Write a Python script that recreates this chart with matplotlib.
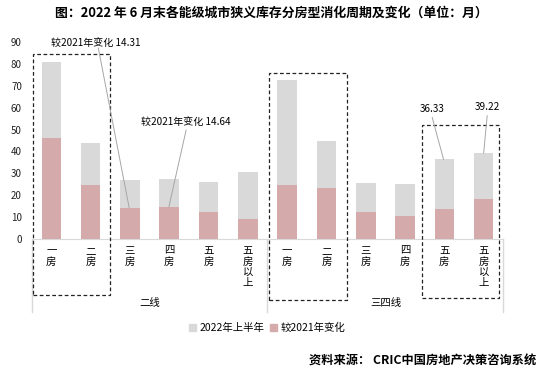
import matplotlib
matplotlib.use("Agg")
import matplotlib.pyplot as plt
from matplotlib.patches import Rectangle, Patch

plt.rcParams["font.family"] = ["Noto Sans CJK SC", "DejaVu Sans"]

# data (months)
room_types = ["一房", "二房", "三房", "四房", "五房", "五房以上"]
groups = ["二线", "三四线"]
h1_2022 = [81.0, 43.7, 26.9, 27.3, 26.1, 30.5,
           72.6, 44.9, 25.6, 24.9, 36.33, 39.22]
chg_vs_2021 = [46.2, 24.6, 14.31, 14.64, 12.4, 9.0,
               24.6, 23.2, 12.2, 10.3, 13.6, 18.3]
series_names = ["2022年上半年", "较2021年变化"]

GRAY = "#d9d9d9"
PINK = "#d5aaaa"
LINE = "#d9d9d9"

cats = room_types * len(groups)
x = list(range(len(cats)))

fig = plt.figure(figsize=(5.5, 3.75), dpi=100)
ax = fig.add_axes([0.0576, 0.3627, 0.8575, 0.5253])

ax.bar(x, h1_2022, width=0.5, color=GRAY, zorder=2)
ax.bar(x, chg_vs_2021, width=0.5, color=PINK, zorder=3)

ax.set_xlim(-0.5, len(cats) - 0.5)
ax.set_ylim(0, 90)
ax.set_yticks(range(0, 91, 10))
ax.tick_params(axis="y", length=0, pad=7, labelsize=7, colors="#222222")
ax.set_xticks(x)
ax.set_xticklabels(["\n".join(c) for c in cats], fontsize=7.5,
                   linespacing=1.08, va="top")
ax.tick_params(axis="x", length=0, pad=5)
for s in ("top", "right", "left"):
    ax.spines[s].set_visible(False)
ax.spines["bottom"].set_color(LINE)

# group separators + labels
xt = ax.get_xaxis_transform()
n = len(room_types)
for k in range(len(groups) + 1):
    ax.plot([k * n - 0.5] * 2, [0, -0.37], transform=xt, color=LINE,
            lw=1, clip_on=False)
for k, g in enumerate(groups):
    ax.text(k * n + (n - 1) / 2, -0.325, g, transform=xt, ha="center",
            va="center", fontsize=7.5)

# dashed highlight boxes
boxes = [(-0.46, 1.49, -25.6, 84.4), (5.55, 7.53, -27.9, 75.7),
         (9.44, 11.40, -27.1, 52.1)]
for x0, x1, y0, y1 in boxes:
    ax.add_patch(Rectangle((x0, y0), x1 - x0, y1 - y0, fill=False,
                           ls=(0, (3, 2)), lw=0.9, ec="#222222",
                           clip_on=False, zorder=4))

# callouts
callouts = [
    (2, chg_vs_2021[2], f"较2021年变化 {chg_vs_2021[2]:.2f}", (1.13, 89.5), (1.195, 87.3), -0.02),
    (3, chg_vs_2021[3], f"较2021年变化 {chg_vs_2021[3]:.2f}", (3.42, 53.6), (3.43, 49.8), -0.01),
    (10, h1_2022[10], f"{h1_2022[10]:.2f}", (9.69, 59.3), (9.69, 55.6), -0.02),
    (11, h1_2022[11], f"{h1_2022[11]:.2f}", (11.09, 60.2), (11.09, 56.4), 0.0),
]
for i, v, label, tpos, lstart, dx in callouts:
    ax.text(tpos[0], tpos[1], label, ha="center", va="center", fontsize=7.2,
            zorder=5)
    ax.annotate("", xy=(i + dx, v), xytext=lstart,
                arrowprops=dict(arrowstyle="-", color="#a6a6a6", lw=0.7,
                                shrinkA=0, shrinkB=0), zorder=5)

handles = [Patch(color=GRAY), Patch(color=PINK)]
fig.legend(handles, series_names, loc="center", ncol=2,
           bbox_to_anchor=(267 / 550, 1 - 328 / 375), frameon=False,
           fontsize=7.5, handlelength=0.7, handleheight=0.7,
           handletextpad=0.3, columnspacing=0.5)

fig.text(271 / 550, 1 - 13 / 375,
         "图：2022 年 6 月末各能级城市狭义库存分房型消化周期及变化（单位：月）",
         ha="center", va="center", fontsize=9.3, fontweight="bold")
fig.text(536 / 550, 1 - 361 / 375, "资料来源： CRIC中国房地产决策咨询系统",
         ha="right", va="center", fontsize=8.8, fontweight="bold")

fig.savefig("out.png", dpi=100)
